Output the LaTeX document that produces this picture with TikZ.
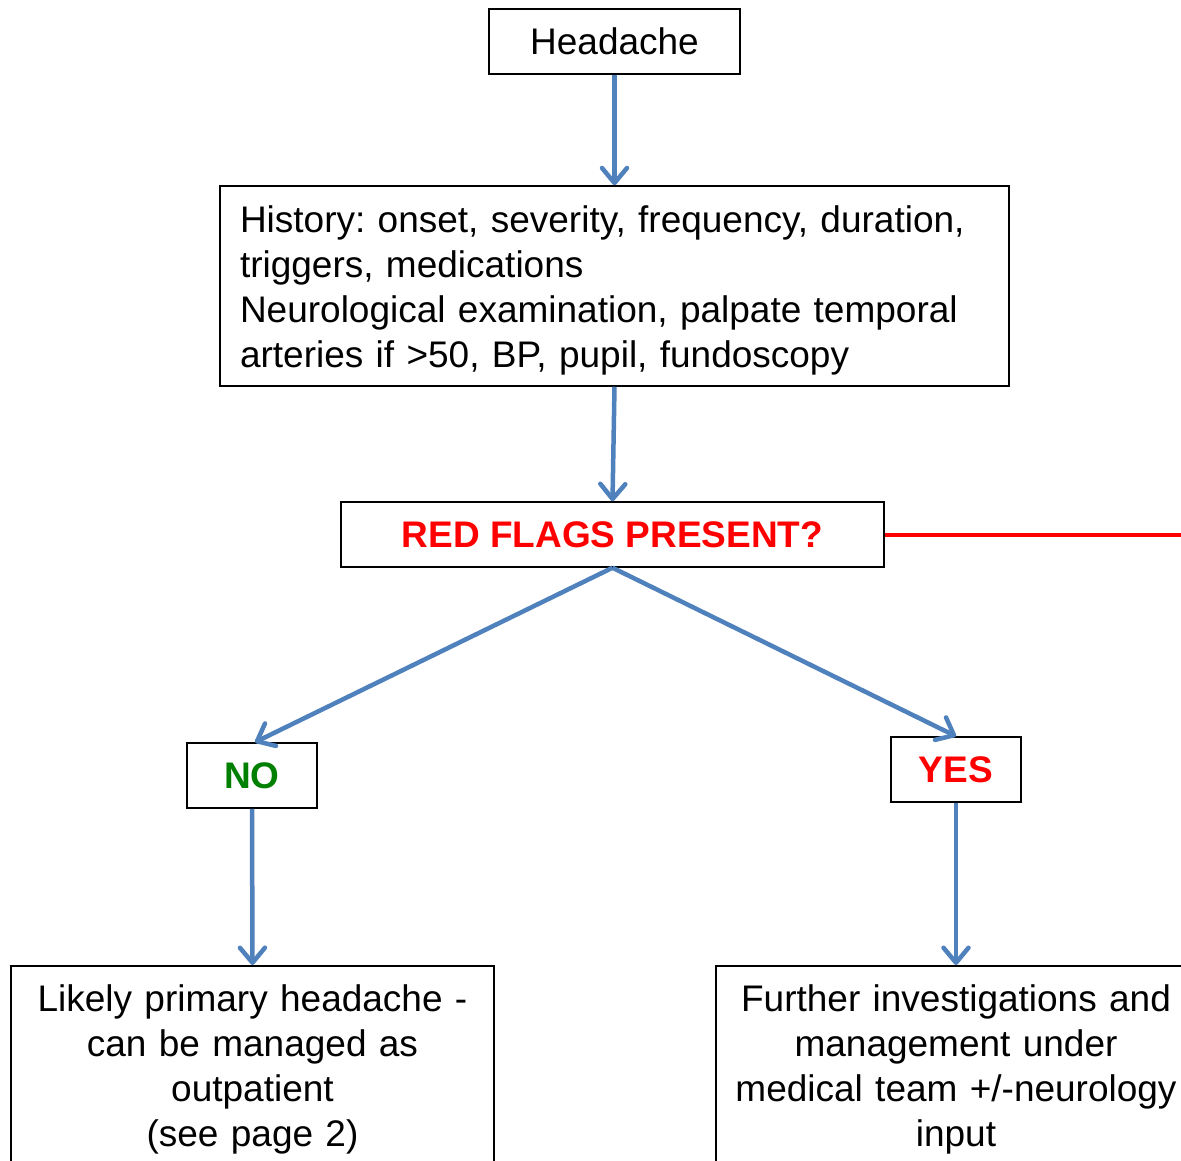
\documentclass[tikz,border=0pt]{standalone}
\usepackage{fontspec}
\setmainfont{Liberation Sans}
\usetikzlibrary{arrows.meta}
\definecolor{arrowblue}{RGB}{79,129,189}
\definecolor{flagred}{RGB}{255,0,0}
\definecolor{nogreen}{RGB}{0,128,0}
\begin{document}
\frenchspacing
\begin{tikzpicture}[x=1pt,y=-1pt,
  box/.style={draw=black,line width=1.5pt,fill=white,inner sep=0pt,
    font=\fontsize{37}{45}\selectfont},
  flow/.style={draw=arrowblue,line width=4.5pt,
    -{Straight Barb[length=15pt,width=25pt,line cap=round,line join=round]}},
  redline/.style={draw=flagred,line width=4pt}]
\useasboundingbox (0,0) rectangle (1181,1161);
\clip (0,0) rectangle (1181,1161);
\fill[white] (0,0) rectangle (1181,1161);

\node[box,minimum width=251pt,minimum height=65pt] (head) at (614.5,41.5) {Headache};
\node[box,minimum width=789pt,minimum height=200pt,text width=749pt,align=left,inner xsep=20pt] (hist) at (614.5,286) {\rule{0pt}{35pt}History: onset, severity, frequency, duration,\\triggers, medications\\Neurological examination, palpate temporal\\arteries if >50, BP, pupil, fundoscopy};
\node[box,minimum width=543pt,minimum height=65pt,text=flagred,font=\fontsize{37}{45}\selectfont\bfseries] (red) at (612.5,534.5) {RED FLAGS PRESENT?};
\node[box,minimum width=130pt,minimum height=65pt,text=nogreen,font=\fontsize{37}{45}\selectfont\bfseries] (no) at (252,775.5) {NO};
\node[box,minimum width=130pt,minimum height=65pt,text=flagred,font=\fontsize{37}{45}\selectfont\bfseries] (yes) at (956,769.5) {YES};
\node[box,anchor=north,minimum width=483pt,text width=460pt,align=center,inner xsep=11.5pt,inner ysep=19pt] (prim) at (252.5,965) {Likely primary headache -\\can be managed as\\outpatient\\(see page 2)};
\node[box,anchor=north,minimum width=480pt,text width=460pt,align=center,inner xsep=10pt,inner ysep=19pt] (further) at (956,965) {Further investigations and\\management under\\medical team +/-neurology\\input};
\coordinate (redend) at (1185,534.5);

\draw[flow] (head.south) -- (hist.north);
\draw[flow] (hist.south) -- (red.north);
\draw[flow] (red.south) -- ([xshift=3pt]no.north);
\draw[flow] (red.south) -- (yes.north);
\draw[flow] (no.south) -- (prim.north);
\draw[flow] (yes.south) -- (further.north);
\draw[redline] (red.east) -- (redend);
\end{tikzpicture}
\end{document}
